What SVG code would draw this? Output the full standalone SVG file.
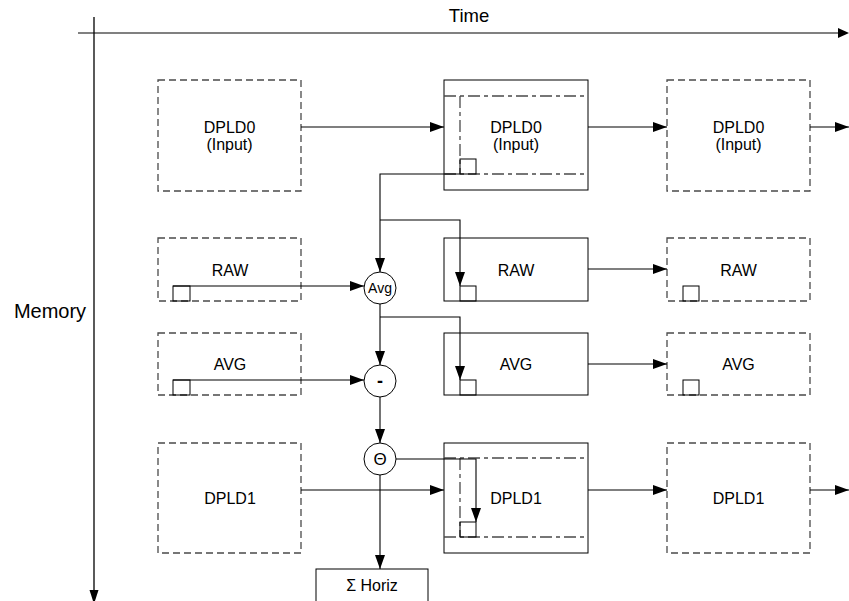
<svg xmlns="http://www.w3.org/2000/svg" width="849" height="601" viewBox="0 0 849 601">
<style>
text{font-family:"Liberation Sans",Arial,sans-serif;fill:#000;text-anchor:middle}
.lbl{font-size:16px}
.ax{font-size:19px}
.dash{fill:none;stroke:#4a4a4a;stroke-width:1.3;stroke-dasharray:7,4}
.solid{fill:#fff;stroke:#000;stroke-width:1}
.dd{fill:none;stroke:#4a4a4a;stroke-width:1.3;stroke-dasharray:12,4,4,4}
.sq{fill:none;stroke:#000;stroke-width:1}
.con{fill:none;stroke:#000;stroke-width:1.1;marker-end:url(#ah)}
.op{fill:#fff;stroke:#000;stroke-width:1}
</style>
<defs>
<marker id="ah" markerUnits="userSpaceOnUse" markerWidth="14" markerHeight="10" refX="14" refY="5" orient="auto">
<path d="M0,0 L14,5 L0,10 z" fill="#000"/>
</marker>
</defs>
<rect width="849" height="601" fill="#fff"/>
<g id="axes">
<line x1="78" y1="33" x2="846" y2="33" stroke="#808080" stroke-width="2"/>
<path d="M838,28 L849,33 L838,38 z" fill="#000"/>
<text class="ax" x="469" y="22" style="font-size:18.5px">Time</text>
<line x1="94" y1="17" x2="94" y2="596" stroke="#000" stroke-width="1.3"/>
<path d="M89.5,590 L94,604 L98.5,590 z" fill="#000"/>
<text class="ax" x="50" y="318" style="font-size:20px">Memory</text>
</g>
<g id="dpld0-a"><rect class="dash" x="158" y="80" width="143" height="111"/><text class="lbl" x="229.5" y="133">DPLD0</text><text class="lbl" x="229.5" y="150">(Input)</text></g>
<g id="dpld0-b"><rect class="solid" x="444" y="80" width="144" height="110"/><path class="dd" d="M444,96 H588 M444,174 H588 M460,96 V174"/><rect class="sq" x="460" y="159" width="16" height="15"/><text class="lbl" x="516" y="133">DPLD0</text><text class="lbl" x="516" y="150">(Input)</text></g>
<g id="dpld0-c"><rect class="dash" x="667" y="80" width="143" height="111"/><text class="lbl" x="738.5" y="133">DPLD0</text><text class="lbl" x="738.5" y="150">(Input)</text></g>
<g id="raw-a"><rect class="dash" x="158" y="238" width="143" height="63"/><rect class="sq" x="173" y="286" width="17" height="15"/><text class="lbl" x="230" y="276">RAW</text></g>
<g id="raw-b"><rect class="solid" x="444" y="238" width="144" height="63"/><rect class="sq" x="460" y="286" width="16" height="15"/><text class="lbl" x="516" y="276">RAW</text></g>
<g id="raw-c"><rect class="dash" x="667" y="238" width="143" height="63"/><rect class="sq" x="683" y="286" width="16" height="15"/><text class="lbl" x="738.5" y="276">RAW</text></g>
<g id="avg-a"><rect class="dash" x="158" y="333" width="143" height="62"/><rect class="sq" x="173" y="380" width="17" height="15"/><text class="lbl" x="230" y="370">AVG</text></g>
<g id="avg-b"><rect class="solid" x="444" y="333" width="144" height="62"/><rect class="sq" x="460" y="380" width="16" height="15"/><text class="lbl" x="516" y="370">AVG</text></g>
<g id="avg-c"><rect class="dash" x="667" y="333" width="143" height="62"/><rect class="sq" x="683" y="380" width="16" height="15"/><text class="lbl" x="738.5" y="370">AVG</text></g>
<g id="dpld1-a"><rect class="dash" x="158" y="443" width="143" height="110"/><text class="lbl" x="230" y="504">DPLD1</text></g>
<g id="dpld1-b"><rect class="solid" x="444" y="443" width="144" height="110"/><path class="dd" d="M444,458 H588 M444,537 H588 M460,458 V537"/><rect class="sq" x="460" y="522" width="16" height="15"/><text class="lbl" x="516" y="504">DPLD1</text></g>
<g id="dpld1-c"><rect class="dash" x="667" y="443" width="143" height="110"/><text class="lbl" x="738.5" y="504">DPLD1</text></g>
<g id="op-avg"><circle class="op" cx="380" cy="288" r="16"/><text x="380" y="293" style="font-size:14px">Avg</text></g>
<g id="op-minus"><circle class="op" cx="380" cy="381" r="16"/><text x="380" y="387" style="font-size:18px;font-weight:bold">-</text></g>
<g id="op-theta"><circle class="op" cx="380" cy="459" r="16"/><text x="380" y="465" style="font-size:17px">Θ</text></g>
<g id="sum"><rect class="solid" x="316" y="569" width="112" height="33"/><text class="lbl" x="372" y="591">Σ Horiz</text></g>
<g id="connectors">
<path class="con" d="M301,127 H444"/>
<path class="con" d="M588,127 H667"/>
<path class="con" d="M810,127 H849"/>
<path class="con" d="M460,174 H380 V272"/>
<path class="con" d="M380,220 H460 V286"/>
<path class="con" d="M173,286 H364"/>
<path class="con" d="M588,269 H667"/>
<path class="con" d="M380,304 V365"/>
<path class="con" d="M380,317 H460 V380"/>
<path class="con" d="M173,380 H364"/>
<path class="con" d="M588,364 H667"/>
<path class="con" d="M380,397 V443"/>
<path class="con" d="M396,459 H476 V522"/>
<path class="con" d="M380,475 V569"/>
<path class="con" d="M301,490 H444"/>
<path class="con" d="M588,490 H667"/>
<path class="con" d="M810,490 H849"/>
</g>
</svg>
